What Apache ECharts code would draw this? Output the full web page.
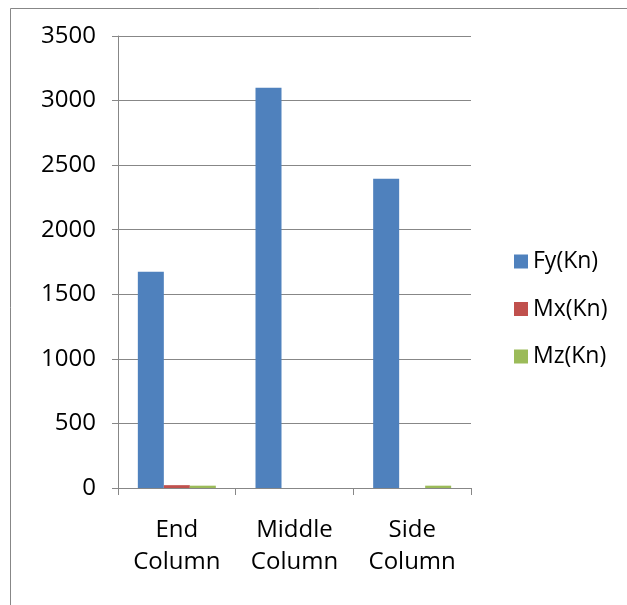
<!DOCTYPE html>
<html>
<head>
<meta charset="utf-8">
<script src="https://cdn.jsdelivr.net/npm/echarts@6/dist/echarts.min.js"></script>
<style>
  html, body { margin: 0; padding: 0; background: #fff; }
  #chart { width: 627px; height: 605px; }
</style>
</head>
<body>
<div id="chart"></div>
<script>
// Column reactions by location
const categories = ['End\nColumn', 'Middle\nColumn', 'Side\nColumn'];
const seriesNames = ['Fy(Kn)', 'Mx(Kn)', 'Mz(Kn)'];
const fyValues = [1675, 3100, 2395];
const mxValues = [22, 0, 0];
const mzValues = [18, 0, 18];
const yTicks = [0, 500, 1000, 1500, 2000, 2500, 3000, 3500];

const colors = ['#4F81BD', '#C0504D', '#9BBB59'];
const font = '"Open Sans", sans-serif';
const gray = '#878787';

const chart = echarts.init(document.getElementById('chart'));
const values = [fyValues, mxValues, mzValues];

chart.setOption({
  animation: false,
  color: colors,
  textStyle: { fontFamily: font },
  graphic: [{
    type: 'rect',
    shape: { x: 10.5, y: 8.5, width: 640, height: 620 },
    style: { fill: 'none', stroke: gray, lineWidth: 1 },
    silent: true
  }],
  grid: { left: 118, right: 156, top: 36, bottom: 117 },
  legend: {
    orient: 'vertical',
    left: 514,
    top: 250,
    padding: 0,
    itemWidth: 14,
    itemHeight: 14,
    itemGap: 24.5,
    icon: 'rect',
    textStyle: { fontSize: 23, color: '#000', fontFamily: font },
    data: seriesNames
  },
  xAxis: {
    type: 'category',
    data: categories,
    axisLine: { lineStyle: { color: gray, width: 1 } },
    axisTick: { show: true, length: 7, lineStyle: { color: gray } },
    axisLabel: { color: '#000', fontSize: 24, lineHeight: 32, margin: 26, fontFamily: font }
  },
  yAxis: {
    type: 'value',
    min: yTicks[0],
    max: yTicks[yTicks.length - 1],
    interval: 500,
    axisLine: { show: true, lineStyle: { color: gray, width: 1 } },
    axisTick: { show: true, length: 6, lineStyle: { color: gray } },
    splitLine: { lineStyle: { color: gray, width: 1 } },
    axisLabel: {
      color: '#000', fontSize: 24, margin: 22, fontFamily: font,
      formatter: v => String(v)
    }
  },
  series: seriesNames.map((name, i) => ({
    name: name,
    type: 'bar',
    data: values[i],
    barWidth: 26,
    barGap: '0%',
    itemStyle: { color: colors[i] }
  }))
});
</script>
</body>
</html>
